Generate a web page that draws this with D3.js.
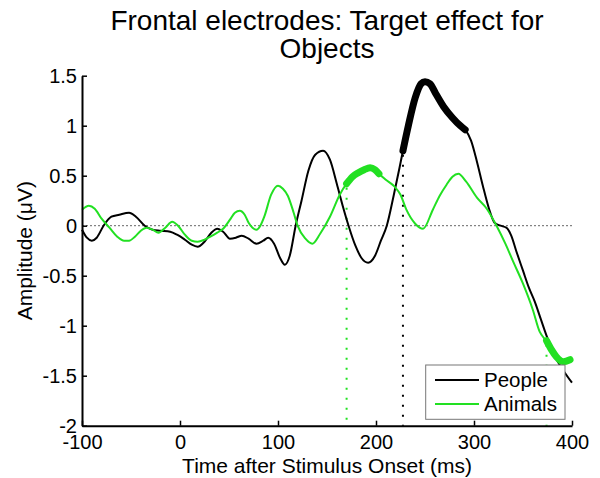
<!DOCTYPE html>
<html><head><meta charset="utf-8">
<script src="https://cdn.jsdelivr.net/npm/d3@7"></script>
<style>body{margin:0;background:#fff}svg{display:block;font-family:"Liberation Sans",Arial,sans-serif}</style>
</head><body>
<svg id="chart" width="600" height="478"></svg>
<script>
// ---- data ----
const titleLines = ["Frontal electrodes: Target effect for", "Objects"];
const xLabel = "Time after Stimulus Onset (ms)";
const yLabel = "Amplitude (\u03BCV)";
const seriesNames = ["People", "Animals"];
const xTicks = [-100, 0, 100, 200, 300, 400];
const yTicks = [1.5, 1, 0.5, 0, -0.5, -1, -1.5, -2];
const yTickLabels = ["1.5", "1", "0.5", "0", "-0.5", "-1", "-1.5", "-2"];

const peopleTime = [-100,-95,-90,-85,-78,-70,-62,-52,-45,-36,-28,-20,-10,-3,5,12,18,25,32,38,44,51,57,63,70,78,85,90,96,102,107,112,118,124,131,138,146,153,160,166,172,179,185,192,199,205,211,218,224,227.5,233,240,246,250,255,261,269,278,286,291,297,303,309,315,321,327,333,338,343,350,356,362,368,374,380,385,392,400];
const peopleAmp = [-0.04,-0.12,-0.15,-0.12,0.0,0.09,0.11,0.13,0.09,0.0,-0.04,-0.05,-0.06,-0.09,-0.14,-0.19,-0.21,-0.16,-0.07,-0.03,-0.06,-0.13,-0.12,-0.1,-0.13,-0.18,-0.15,-0.12,-0.18,-0.32,-0.39,-0.3,0.0,0.25,0.55,0.71,0.75,0.66,0.42,0.2,0.0,-0.2,-0.32,-0.37,-0.3,-0.15,0.0,0.3,0.58,0.75,1.0,1.28,1.42,1.44,1.42,1.32,1.19,1.08,1.0,0.96,0.85,0.64,0.4,0.18,0.03,0.0,-0.02,-0.1,-0.25,-0.45,-0.62,-0.76,-0.93,-1.1,-1.25,-1.35,-1.46,-1.57];

const animalsTime = [-100,-93,-87,-80,-72,-64,-57,-52,-46,-40,-34,-28,-22,-15,-8,-2,5,12,18,25,31,38,44,51,56,61,66,70,74,78,82,86,93,100,105,110,116,120,128,135,143,153,163,170,176,182,188,194,199,203,210,219,225,231,240,248,258,265,272,278,284,292,303,313,323,332,340,350,360,367,372,374,379,384,391,398];
const animalsAmp = [0.16,0.2,0.17,0.07,-0.02,-0.11,-0.15,-0.15,-0.11,-0.05,-0.02,-0.04,-0.07,-0.02,0.04,0.0,-0.09,-0.15,-0.16,-0.14,-0.11,-0.07,-0.03,0.06,0.13,0.15,0.11,0.03,-0.02,-0.04,0.0,0.09,0.31,0.4,0.37,0.3,0.13,0.0,-0.13,-0.18,-0.08,0.09,0.31,0.42,0.49,0.53,0.56,0.58,0.56,0.52,0.46,0.39,0.31,0.16,0.02,-0.03,0.16,0.3,0.41,0.49,0.52,0.44,0.28,0.17,0.0,-0.18,-0.36,-0.58,-0.84,-1.06,-1.13,-1.15,-1.24,-1.31,-1.36,-1.34];

// significant windows (thick segments) and onset markers (dotted verticals)
const peopleSig = [[227.5, 291]];
const animalsSig = [[170, 203], [374, 398]];
const peopleOnsets = [227.5];
const animalsOnsets = [170, 374];

// ---- drawing ----
const colors = ["#000000", "#22e022"];
const svg = d3.select("#chart");
const L = 82, R = 572, T = 75.7, B = 425.7;
const x = d3.scaleLinear().domain([-100, 400]).range([L, R]);
const y = d3.scaleLinear().domain([-2, 1.5]).range([B, T]);

const series = [
  {name: seriesNames[0], pts: peopleTime.map((t, i) => [t, peopleAmp[i]]), sig: peopleSig, on: peopleOnsets, color: colors[0]},
  {name: seriesNames[1], pts: animalsTime.map((t, i) => [t, animalsAmp[i]]), sig: animalsSig, on: animalsOnsets, color: colors[1]}
];

const line = d3.line().x(d => x(d[0])).y(d => y(d[1])).curve(d3.curveMonotoneX);

// zero line
svg.append("line").attr("x1", x(-100)).attr("x2", x(400)).attr("y1", y(0)).attr("y2", y(0))
  .attr("stroke", "#666").attr("stroke-width", 1).attr("stroke-dasharray", "2,2");

// dotted onset verticals
series.forEach(s => {
  s.on.forEach(t => {
    const p = s.pts.find(d => d[0] === t);
    svg.append("line").attr("x1", x(t)).attr("x2", x(t)).attr("y1", y(p[1]) + 4).attr("y2", y(-2))
      .attr("stroke", s.color).attr("stroke-width", 2).attr("stroke-dasharray", "2,8");
  });
});

// lines
series.forEach(s => {
  svg.append("path").attr("d", line(s.pts)).attr("fill", "none")
    .attr("stroke", s.color).attr("stroke-width", 2);
  s.sig.forEach(([a, b]) => {
    const seg = s.pts.filter(d => d[0] >= a && d[0] <= b);
    svg.append("path").attr("d", line(seg)).attr("fill", "none")
      .attr("stroke", s.color).attr("stroke-width", 7).attr("stroke-linecap", "round");
  });
});

// axes
const yAxis = d3.axisLeft(y).tickValues(yTicks).tickFormat((d, i) => yTickLabels[i])
  .tickSizeInner(-5).tickSizeOuter(0).tickPadding(5);
const gy = svg.append("g").attr("transform", `translate(${L},0)`).call(yAxis);
const xAxis = d3.axisBottom(x).tickValues(xTicks).tickFormat(d => String(d))
  .tickSizeInner(-5).tickSizeOuter(0).tickPadding(9);
const gx = svg.append("g").attr("transform", `translate(0,${B})`).call(xAxis);
[gx, gy].forEach(g => {
  g.select(".domain").attr("stroke", "#000").attr("stroke-width", 2);
  g.selectAll(".tick line").attr("stroke", "#000").attr("stroke-width", 1.5);
  g.selectAll(".tick text").attr("fill", "#000").style("font-size", "20px")
    .style("font-family", '"Liberation Sans",Arial,sans-serif');
});

// title
svg.append("text").attr("x", (L + R) / 2).attr("text-anchor", "middle")
  .style("font-size", "28px").attr("fill", "#000")
  .selectAll("tspan").data(titleLines).join("tspan")
  .attr("x", (L + R) / 2).attr("y", (d, i) => 30 + i * 28).text(d => d);

// axis labels
svg.append("text").attr("x", (L + R) / 2).attr("y", 472.5).attr("text-anchor", "middle")
  .style("font-size", "21px").attr("fill", "#000").text(xLabel);
svg.append("text").attr("transform", `translate(31.5,${(T + B) / 2}) rotate(-90)`)
  .attr("text-anchor", "middle").style("font-size", "21px").attr("fill", "#000").text(yLabel);

// legend
const lg = svg.append("g");
lg.append("rect").attr("x", 425.7).attr("y", 365).attr("width", 139.3).attr("height", 54.3)
  .attr("fill", "#fff").attr("stroke", "#777").attr("stroke-width", 1);
series.forEach((s, i) => {
  const yy = 380 + i * 24;
  lg.append("line").attr("x1", 435).attr("x2", 479).attr("y1", yy).attr("y2", yy)
    .attr("stroke", s.color).attr("stroke-width", 2);
  lg.append("text").attr("x", 484).attr("y", yy + 7).style("font-size", "20.5px")
    .attr("fill", "#000").text(s.name);
});
</script>
</body></html>
